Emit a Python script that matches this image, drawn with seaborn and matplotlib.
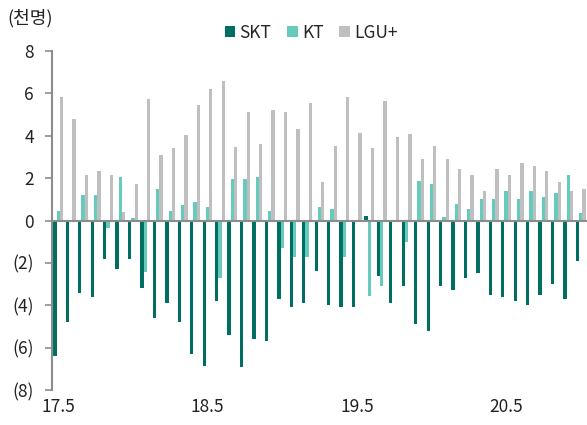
import numpy as np
import pandas as pd
import matplotlib
matplotlib.use('Agg')
import matplotlib.pyplot as plt
import seaborn as sns

# 월별 순증 가입자 (천명)
meses = [f'{a}.{m}' for a in range(17, 21) for m in range(1, 13)]
meses = meses[meses.index('17.5'):meses.index('20.11') + 1]

skt = [-6.4, -4.8, -3.4, -3.6, -1.8, -2.3, -1.8, -3.2, -4.6, -3.9, -4.8, -6.3,
       -6.85, -3.8, -5.4, -6.9, -5.6, -5.7, -3.7, -4.1, -3.9, -2.4, -4.0, -4.1,
       -4.1, 0.2, -2.6, -3.9, -3.1, -4.9, -5.2, -3.1, -3.3, -2.7, -2.5, -3.5,
       -3.6, -3.8, -4.0, -3.5, -3.0, -3.7, -1.9]
kt = [0.45, 0.0, 1.2, 1.2, -0.35, 2.05, 0.12, -2.45, 1.5, 0.45, 0.75, 0.85,
      0.65, -2.7, 1.95, 1.95, 2.05, 0.45, -1.3, -1.7, -1.7, 0.65, 0.55, -1.7,
      0.0, -3.55, -3.1, 0.0, -1.0, 1.85, 1.7, 0.15, 0.8, 0.55, 1.0, 1.0,
      1.4, 1.0, 1.4, 1.1, 1.3, 2.15, 0.35]
lgu = [5.85, 4.8, 2.15, 2.35, 2.15, 0.4, 1.7, 5.75, 3.1, 3.4, 4.05, 5.45,
       6.2, 6.6, 3.45, 5.1, 3.6, 5.2, 5.1, 4.3, 5.55, 1.8, 3.5, 5.85,
       4.15, 3.4, 5.65, 3.95, 4.1, 2.9, 3.5, 2.9, 2.45, 2.15, 1.4, 2.45,
       2.15, 2.7, 2.55, 2.35, 1.8, 1.4, 1.5]

etiquetas_x = ['17.5', '18.5', '19.5', '20.5']
etiquetas_y = ['(8)', '(6)', '(4)', '(2)', '0', '2', '4', '6', '8']

df = pd.DataFrame({'mes': meses * 3,
                   'valor': skt + kt + lgu,
                   'empresa': ['SKT'] * len(meses) + ['KT'] * len(meses) + ['LGU+'] * len(meses)})

sns.set_style('white')
plt.rcParams['font.family'] = ['Noto Sans CJK KR', 'DejaVu Sans']

fig = plt.figure(figsize=(5.87, 4.25), dpi=100)
ax = fig.add_axes([52 / 587, 1 - 390 / 425, 1 - 52 / 587, 339 / 425])

colores = ['#006f62', '#66cbbd', '#bfbfbf']
sns.barplot(data=df, x='mes', y='valor', hue='empresa', palette=colores,
            width=0.8, saturation=1, linewidth=0, ax=ax, legend=True)

ax.set_xlim(-0.5, len(meses) - 0.5)
ax.set_ylim(-8, 8)
ax.set_yticks(np.arange(-8, 9, 2), etiquetas_y)
ax.set_xlabel('')
ax.set_ylabel('')

gris = '#8c8c8c'
for s in ['top', 'right']:
    ax.spines[s].set_visible(False)
ax.spines['left'].set_color(gris)
ax.spines['left'].set_linewidth(1.5)
ax.spines['bottom'].set_position(('data', 0))
ax.spines['bottom'].set_color(gris)
ax.spines['bottom'].set_linewidth(1.5)
ax.set_xticks(np.arange(-0.5, len(meses), 1), [''] * (len(meses) + 1))
ax.tick_params(axis='x', length=3, width=1.5, color=gris, direction='out')
ax.tick_params(axis='y', length=5, width=1.2, color=gris, direction='out',
               left=True, pad=8, labelsize=12.5, labelcolor='#222222')

# etiquetas del eje x abajo del todo
sec = ax.secondary_xaxis('bottom')
sec.set_xticks([meses.index(e) for e in etiquetas_x], etiquetas_x)
sec.tick_params(length=0, pad=6, labelsize=12.5, labelcolor='#222222')
sec.spines['bottom'].set_visible(False)

ax.legend(loc='center', bbox_to_anchor=(0.53, 1 - 33 / 425), bbox_transform=fig.transFigure,
          ncol=3, frameon=False, handlelength=0.6, handleheight=0.6, handletextpad=0.25,
          columnspacing=0.9, fontsize=12.5, borderpad=0)

fig.text(7 / 587, 1 - 18 / 425, '(천명)', fontsize=13, va='center', ha='left', color='#222222')

plt.savefig('out.png', dpi=100)
